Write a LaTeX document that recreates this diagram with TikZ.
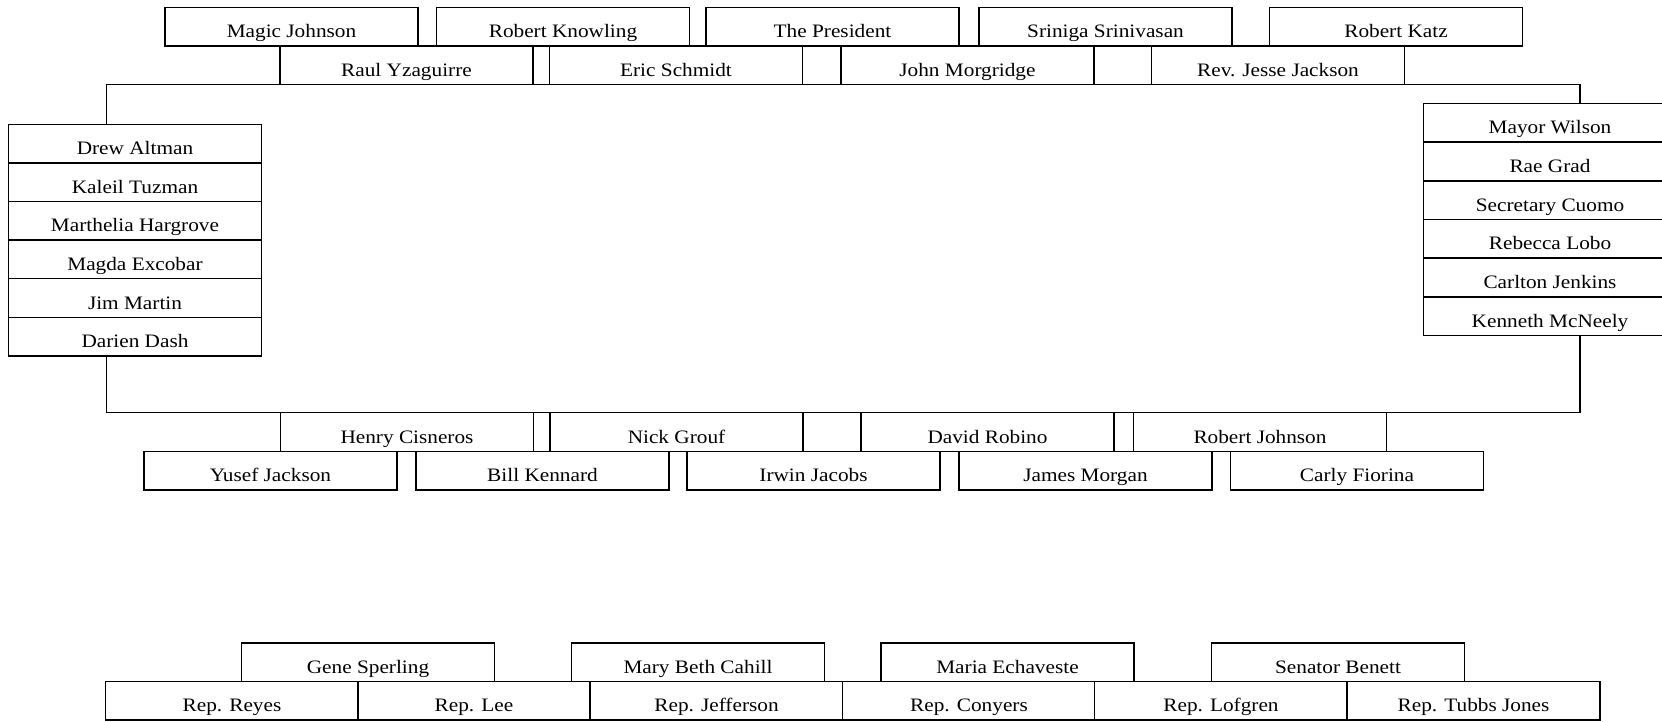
\documentclass[tikz,border=0pt]{standalone}
\usepackage{fontspec}
\setmainfont{Liberation Serif}[FakeStretch=1.12]
\usepackage{tikz}

\tikzset{
	guest/.style={draw, fill=white, line width=1.5pt, inner sep=0pt,
		minimum width=253pt, minimum height=38.6pt,
		text height=25pt, text depth=3pt, font=\fontsize{19}{22}\selectfont}
}

\begin{document}
\begin{tikzpicture}[x=1pt,y=-1pt]
		\useasboundingbox (0,0) rectangle (1662,721);
		
		\coordinate (tl) at (106.5,84.5);
		\coordinate (tr) at (1580,84.5);
		\coordinate (bl) at (106.5,412.5);
		\coordinate (br) at (1580,412.5);
		
		\node[guest] (MJ) at (291.5,26.7) {Magic Johnson};
		\node[guest] (RK) at (563,26.7) {Robert Knowling};
		\node[guest] (TP) at (832.5,26.7) {The President};
		\node[guest] (SS) at (1105.5,26.7) {Sriniga Srinivasan};
		\node[guest] (RKz) at (1396,26.7) {Robert Katz};
		
		\node[guest] (RY) at (406.5,65.3) {Raul Yzaguirre};
		\node[guest] (ES) at (676,65.3) {Eric Schmidt};
		\node[guest] (JMg) at (967.5,65.3) {John Morgridge};
		\node[guest] (JJ) at (1278,65.3) {Rev. Jesse Jackson};
		
		\node[guest] (DA) at (135,143.6) {Drew Altman};
		\node[guest] (KT) at (135,182.2) {Kaleil Tuzman};
		\node[guest] (MH) at (135,220.8) {Marthelia Hargrove};
		\node[guest] (ME) at (135,259.4) {Magda Excobar};
		\node[guest] (JM) at (135,298) {Jim Martin};
		\node[guest] (DD) at (135,336.7) {Darien Dash};
		
		\node[guest] (MW) at (1550,122.8) {Mayor Wilson};
		\node[guest] (RG) at (1550,161.5) {Rae Grad};
		\node[guest] (SC) at (1550,200.1) {Secretary Cuomo};
		\node[guest] (RL) at (1550,238.8) {Rebecca Lobo};
		\node[guest] (CJ) at (1550,277.5) {Carlton Jenkins};
		\node[guest] (KM) at (1550,316.2) {Kenneth McNeely};
		
		\node[guest] (HC) at (407,432) {Henry Cisneros};
		\node[guest] (NG) at (676.5,432) {Nick Grouf};
		\node[guest] (DR) at (987.5,432) {David Robino};
		\node[guest] (RJ) at (1260,432) {Robert Johnson};
		
		\node[guest] (YJ) at (270.5,470.8) {Yusef Jackson};
		\node[guest] (BK) at (542.5,470.8) {Bill Kennard};
		\node[guest] (IJ) at (813.5,470.8) {Irwin Jacobs};
		\node[guest] (JMn) at (1085.5,470.8) {James Morgan};
		\node[guest] (CF) at (1357,470.8) {Carly Fiorina};
		
		\node[guest] (GS) at (368,662.5) {Gene Sperling};
		\node[guest] (MBC) at (698,662.5) {Mary Beth Cahill};
		\node[guest] (MEc) at (1007.5,662.5) {Maria Echaveste};
		\node[guest] (SB) at (1338,662.5) {Senator Benett};
		
		\node[guest] (RRe) at (232,700.9) {Rep. Reyes};
		\node[guest, minimum width=232pt] (RLe) at (474,700.9) {Rep. Lee};
		\node[guest] (RJe) at (716.5,700.9) {Rep. Jefferson};
		\node[guest] (RCo) at (969,700.9) {Rep. Conyers};
		\node[guest] (RLo) at (1221,700.9) {Rep. Lofgren};
		\node[guest] (RTJ) at (1473.5,700.9) {Rep. Tubbs Jones};
		%
		\path[draw, line width=1.5pt, line cap=rect]
		(tl) edge (tr)
		(bl) edge (br)
		(tl) edge (DA.north -| tl)
		(DD.south -| bl) edge (bl)
		(tr) edge (MW.north -| tr)
		(KM.south -| br) edge (br);
		
	\end{tikzpicture}
\end{document}
